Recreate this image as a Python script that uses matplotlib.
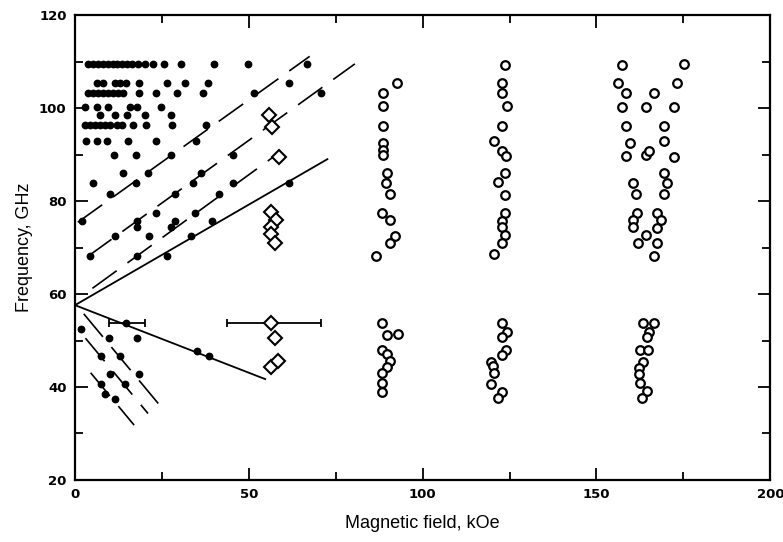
import numpy as np
import matplotlib
matplotlib.use("Agg")
import matplotlib.pyplot as plt
from matplotlib.ticker import MultipleLocator
from matplotlib import font_manager

# filled dots (field kOe, frequency GHz)
dots_x = [3.8, 5.2, 6.6, 8.0, 9.4, 10.8, 12.2, 13.6, 15.0, 16.4, 18.0, 20.0, 22.4, 25.5, 30.5, 40.1, 49.7, 66.6,
          6.2, 8.1, 11.5, 13.0, 14.8, 18.3, 26.4, 31.5, 38.2, 61.6,
          3.8, 5.2, 6.7, 8.1, 9.5, 11.0, 12.4, 13.8, 18.3, 23.4, 29.3, 36.8, 51.6, 70.7,
          2.9, 6.2, 9.5, 15.8, 17.7, 24.6,
          7.2, 11.5, 15.0, 20.1, 27.7,
          2.9, 4.3, 5.7, 7.2, 8.6, 10.0, 12.0, 13.6, 16.7, 20.5, 27.9, 37.7,
          3.3, 6.2, 9.1, 15.3, 23.4, 34.9,
          11.2, 17.5, 27.7, 45.4,
          13.8, 21.0, 36.3,
          5.2, 17.5, 33.9, 45.4, 61.6,
          10.0, 28.9, 41.5,
          23.4, 34.4,
          1.9, 17.9, 28.9, 39.4,
          17.9, 27.7,
          11.5, 21.3, 33.4,
          4.3, 17.7, 26.4,
          1.6, 9.8, 17.9, 7.4, 12.9, 35.0, 38.5, 10.0, 18.4, 7.4, 14.3, 8.6, 11.5]
dots_y = [109.5] * 18 + [105.4] * 10 + [103.3] * 14 + [100.3] * 6 + [98.5] * 5 + [96.3] * 12 + \
         [92.8] * 6 + [89.8] * 4 + [86.0] * 3 + [83.9] * 5 + [81.4] * 3 + [77.4] * 2 + [75.8] * 4 + \
         [74.5] * 2 + [72.5] * 3 + [68.2] * 3 + \
         [52.5, 50.6, 50.6, 46.7, 46.7, 47.8, 46.7, 42.9, 42.9, 40.6, 40.6, 38.4, 37.4]

# dot with error bar
err_dot = (14.6, 53.7)
err_dot_lo, err_dot_hi = 4.8, 5.5

# open diamonds
dia_x = [55.9, 56.6, 58.7, 56.4, 57.8, 56.4, 56.4, 57.6, 57.6, 56.4, 58.5]
dia_y = [98.5, 96.0, 89.5, 77.7, 75.9, 74.5, 73.0, 70.9, 50.5, 44.2, 45.6]
err_dia = (56.4, 53.7)
err_dia_lo, err_dia_hi = 12.8, 14.3

# open circles, three columns
c1_x = [92.5, 88.6, 88.6, 88.6, 88.6, 88.6, 88.6, 89.8, 89.5, 90.7, 88.3, 90.7, 91.9, 90.7, 86.6,
        88.3, 89.8, 92.8, 88.3, 89.8, 90.7, 89.6, 88.3, 88.3, 88.3]
c1_y = [105.4, 103.3, 100.4, 96.1, 92.5, 91.0, 89.9, 86.0, 83.8, 81.5, 77.5, 75.9, 72.5, 71.0, 68.2,
        53.8, 51.1, 51.5, 48.0, 47.0, 45.6, 44.4, 43.1, 40.9, 39.0]
c2_x = [123.7, 122.9, 122.9, 124.2, 122.7, 120.6, 122.7, 123.9, 123.7, 121.6, 123.7, 123.7, 122.9, 122.9,
        123.7, 122.9, 120.6,
        122.7, 124.2, 122.9, 123.9, 122.7, 119.7, 120.3, 120.6, 119.7, 122.9, 121.8]
c2_y = [109.2, 105.3, 103.2, 100.4, 96.1, 92.9, 90.8, 89.7, 86.0, 84.0, 81.3, 77.4, 75.8, 74.5,
        72.7, 70.9, 68.5,
        53.7, 51.8, 50.7, 48.0, 46.9, 45.4, 44.5, 43.1, 40.6, 38.9, 37.6]
c3_x = [157.3, 175.1, 156.3, 173.2, 158.5, 166.4, 157.4, 164.3, 172.2, 158.5, 169.3, 159.5, 169.3,
        158.5, 164.3, 165.2, 172.2, 169.3, 170.3, 160.5, 161.4, 169.3, 161.7, 167.4, 160.5, 168.6,
        160.5, 167.4, 164.3, 161.9, 167.4, 166.5,
        163.3, 166.5, 165.2, 164.5, 162.4, 164.8, 163.3, 162.1, 162.1, 162.6, 164.5, 163.0]
c3_y = [109.2, 109.4, 105.4, 105.4, 103.3, 103.3, 100.3, 100.3, 100.3, 96.1, 96.1, 92.5, 92.8,
        89.7, 89.9, 90.8, 89.5, 86.1, 83.8, 83.8, 81.5, 81.5, 77.5, 77.5, 75.9, 75.9,
        74.5, 74.3, 72.7, 70.9, 70.9, 68.2,
        53.7, 53.7, 51.8, 50.8, 48.0, 48.0, 45.4, 44.0, 42.9, 40.8, 39.2, 37.6]

# solid lines: (x0, y0, x1, y1)
solid_lines = [(0, 57.6, 72.6, 89.0), (0, 57.6, 54.7, 41.7)]

# dashed lines: intercept, slope, x range
dash_f0 = [58.5, 66.1, 75.0, 58.0, 53.2, 47.1]
dash_k = [0.543, 0.539, 0.535, -0.9, -0.9, -0.9]
dash_xa = [5.0, 3.5, 0.8, 2.5, 3.0, 4.5]
dash_xb = [57.0, 80.5, 67.5, 24.0, 21.0, 17.0]

names = {f.name for f in font_manager.fontManager.ttflist}
tick_family = "Liberation Sans Narrow" if "Liberation Sans Narrow" in names else "DejaVu Sans"

fig = plt.figure(figsize=(7.83, 5.42), dpi=100)
ax = fig.add_axes([0.0958, 0.1144, 0.888, 0.8579])

for x0, y0, x1, y1 in solid_lines:
    ax.plot([x0, x1], [y0, y1], color="black", lw=1.3, zorder=2)

for f0, k, xa, xb in zip(dash_f0, dash_k, dash_xa, dash_xb):
    xs = np.array([xa, xb])
    ax.plot(xs, f0 + k * xs, color="black", lw=1.2, dashes=(18, 8), zorder=2)

ax.plot(dots_x, dots_y, "o", color="black", ms=4.6, zorder=3)
ax.errorbar([err_dot[0]], [err_dot[1]], xerr=[[err_dot_lo], [err_dot_hi]], fmt="o", color="black",
            ms=4.6, lw=1.3, capsize=3, capthick=1.3, zorder=3)

ax.errorbar([err_dia[0]], [err_dia[1]], xerr=[[err_dia_lo], [err_dia_hi]], fmt="none", ecolor="black",
            lw=1.3, capsize=3, capthick=1.3, zorder=3)
ax.plot(dia_x + [err_dia[0]], dia_y + [err_dia[1]], "D", mfc="white", mec="black", ms=7.5, mew=1.5, zorder=4)

for cx, cy in [(c1_x, c1_y), (c2_x, c2_y), (c3_x, c3_y)]:
    ax.plot(cx, cy, "o", mfc="white", mec="black", ms=6.2, mew=1.6, zorder=4)

ax.set_xlim(0, 200)
ax.set_ylim(20, 120)
ax.xaxis.set_major_locator(MultipleLocator(50))
ax.xaxis.set_minor_locator(MultipleLocator(25))
ax.yaxis.set_major_locator(MultipleLocator(20))
ax.yaxis.set_minor_locator(MultipleLocator(10))
ax.tick_params(which="both", direction="in", top=True, right=True, width=1.3)
ax.tick_params(which="major", length=9, pad=6)
ax.tick_params(which="minor", length=6)
for s in ax.spines.values():
    s.set_linewidth(1.6)

for lab in ax.get_xticklabels() + ax.get_yticklabels():
    lab.set_family([tick_family, "DejaVu Sans"])
    lab.set_fontweight("bold")
    lab.set_fontsize(9.5)

ax.set_xlabel("Magnetic field, kOe", family=["Liberation Sans", "DejaVu Sans"], fontsize=13, labelpad=10)
ax.set_ylabel("Frequency, GHz", family=["Liberation Sans", "DejaVu Sans"], fontsize=13, labelpad=4)

fig.savefig("out.png", dpi=100)
